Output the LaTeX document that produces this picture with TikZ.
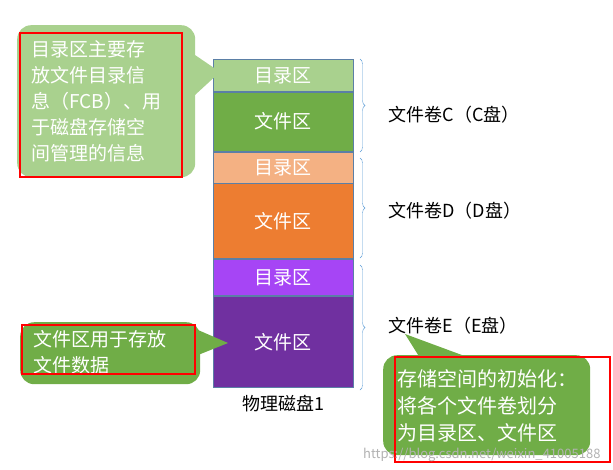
\documentclass[tikz,border=0pt]{standalone}
\usepackage{fontspec}
\setmainfont{Noto Sans CJK SC}
\usetikzlibrary{positioning, decorations.pathreplacing, calc}
\definecolor{lgreen}{HTML}{A9D18E}
\definecolor{dgreen}{HTML}{70AD47}
\definecolor{lorange}{HTML}{F4B183}
\definecolor{dorange}{HTML}{ED7D31}
\definecolor{lpurple}{HTML}{A645F5}
\definecolor{dpurple}{HTML}{7030A0}
\definecolor{edgeblue}{HTML}{5B7FA6}
\definecolor{bracecol}{HTML}{5B9BD5}
\tikzset{
  seg/.style={draw=edgeblue, line width=0.8pt, minimum width=140pt, inner sep=0pt,
    text=white, font=\fontsize{19}{21}\selectfont},
  callout/.style={rounded corners=14pt, inner sep=0pt},
  note/.style={text=white, font=\fontsize{19}{26}\selectfont, align=left, inner sep=0pt},
  redbox/.style={draw=red, line width=2pt},
  vol/.style={font=\fontsize{18}{20}\selectfont, anchor=west},
  brace/.style={draw=bracecol, decorate, decoration={brace, amplitude=5pt}}
}
\begin{document}
\begin{tikzpicture}[x=1pt, y=-1pt]
  \useasboundingbox (0,0) rectangle (613,469);
  %
  \node[seg, fill=lgreen, minimum height=32pt, anchor=north west] (dirc) at (213,59) {目录区};
  \node[seg, fill=dgreen, minimum height=59pt, below=0pt of dirc] (filec) {文件区};
  \node[seg, fill=lorange, minimum height=31pt, below=0pt of filec] (dird) {目录区};
  \node[seg, fill=dorange, minimum height=75pt, below=0pt of dird] (filed) {文件区};
  \node[seg, fill=lpurple, minimum height=36pt, below=0pt of filed] (dire) {目录区};
  \node[seg, fill=dpurple, minimum height=91pt, below=0pt of dire] (filee) {文件区};
  \node[below=4pt of filee, font=\fontsize{18}{20}\selectfont] (disk) {物理磁盘1};
  %
  \coordinate (bc1) at (360,59);  \coordinate (bc2) at (360,152);
  \coordinate (bd1) at (360,158); \coordinate (bd2) at (360,258);
  \coordinate (be1) at (360,265); \coordinate (be2) at (360,390);
  \draw[brace] (bc1) -- (bc2);
  \draw[brace] (bd1) -- (bd2);
  \draw[brace] (be1) -- (be2);
  \node[vol] (volc) at (385,115) {文件卷C（C盘）};
  \node[vol] (vold) at (385,211) {文件卷D（D盘）};
  \node[vol] (vole) at (385,326) {文件卷E（E盘）};
  %
  % callouts
  \node[callout, fill=lgreen, minimum width=178pt, minimum height=152pt, anchor=north west] (c1) at (17,25) {};
  \fill[lgreen] (195,55) -- (220,72) -- (195,95) -- cycle;
  \node[note, anchor=north west] (t1) at (31,40) {目录区主要存\\放文件目录信\\息（FCB）、用\\于磁盘存储空\\间管理的信息};
  \draw[redbox] (20,33) rectangle (182,177);
  %
  \node[callout, fill=dgreen, minimum width=180pt, minimum height=62pt, anchor=north west] (c2) at (20,322) {};
  \fill[dgreen] (198,330) -- (228,343) -- (198,355) -- cycle;
  \node[note, anchor=north west] (t2) at (33,330) {文件区用于存放\\文件数据};
  \draw[redbox] (22,325) rectangle (195,374);
  %
  \node[callout, fill=dgreen, minimum width=207pt, minimum height=100pt, anchor=north west] (c3) at (383,355) {};
  \fill[dgreen] (420,358) -- (405,334) -- (470,358) -- cycle;
  \node[note, anchor=north west, font=\fontsize{20}{27}\selectfont] (t3) at (397,369) {存储空间的初始化：\\将各个文件卷划分\\为目录区、文件区};
  \draw[redbox] (395,357) rectangle (610,462);
  \node[text=gray!60, font=\fontsize{13}{14}\selectfont, anchor=east] (wm) at (604,455) {https://blog.csdn.net/weixin\_41005188};
\end{tikzpicture}
\end{document}
